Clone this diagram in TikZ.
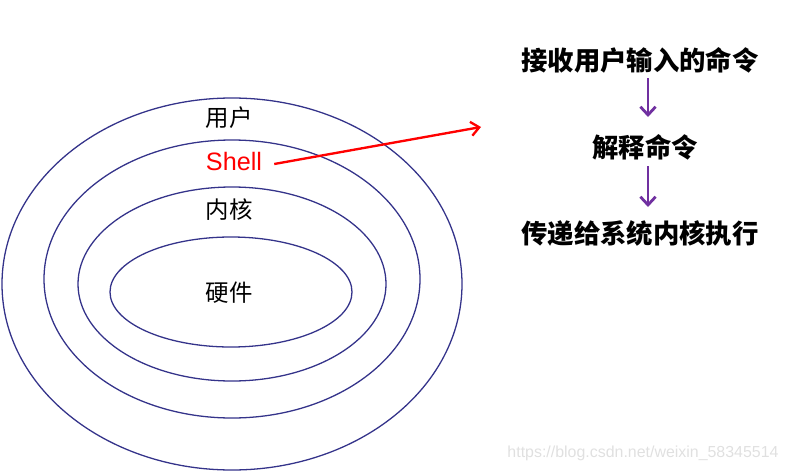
\documentclass[tikz,border=0pt]{standalone}
\usepackage{fontspec}
\setmainfont{Liberation Sans}
\newfontfamily\cjk{Noto Sans CJK SC}
\usetikzlibrary{arrows.meta}
\definecolor{ring}{HTML}{34338A}
\definecolor{purp}{HTML}{7030A0}
\tikzset{ringline/.style={draw=ring,line width=1.1pt},
lab/.style={font=\cjk\fontsize{20}{24}\selectfont,inner sep=0pt},
steptext/.style={font=\cjk\bfseries\fontsize{22.5}{26}\selectfont,inner sep=0pt},
parrow/.style={draw=purp,line width=2.4pt,-{Straight Barb[length=7pt,width=13pt]}}}
\begin{document}
\begin{tikzpicture}[x=0.03cm,y=-0.03cm]
\useasboundingbox (0,0) rectangle (789,472);
\draw[ringline] (232,284) ellipse [x radius=230,y radius=186];
\draw[ringline] (232,279) ellipse [x radius=188,y radius=139];
\draw[ringline] (232,284) ellipse [x radius=154,y radius=97];
\draw[ringline] (231,292) ellipse [x radius=121,y radius=55];
\node[lab] (user) at (229,118) {用户};
\node[inner sep=0pt,text=red,font=\fontsize{21.5}{24}\selectfont] (shell) at (234,161) {Shell};
\node[lab] (kernel) at (229,210) {内核};
\node[lab] (hw) at (229,293) {硬件};
\coordinate (tip) at (481,127);
\draw[red,line width=2pt,-{Straight Barb[length=7pt,width=12pt]}] (shell.east)+(12,3) -- (tip);
\node[steptext] (s1) at (640,60) {接收用户输入的命令};
\node[steptext] (s2) at (645,147) {解释命令};
\node[steptext] (s3) at (640,233) {传递给系统内核执行};
\draw[parrow] (648,78) -- (648,117);
\draw[parrow] (648,166) -- (648,207);
\node[text=black!12,font=\fontsize{13.6}{16}\selectfont,inner sep=0pt] (wm) at (643,453) {https://blog.csdn.net/weixin\_58345514};
\end{tikzpicture}
\end{document}
